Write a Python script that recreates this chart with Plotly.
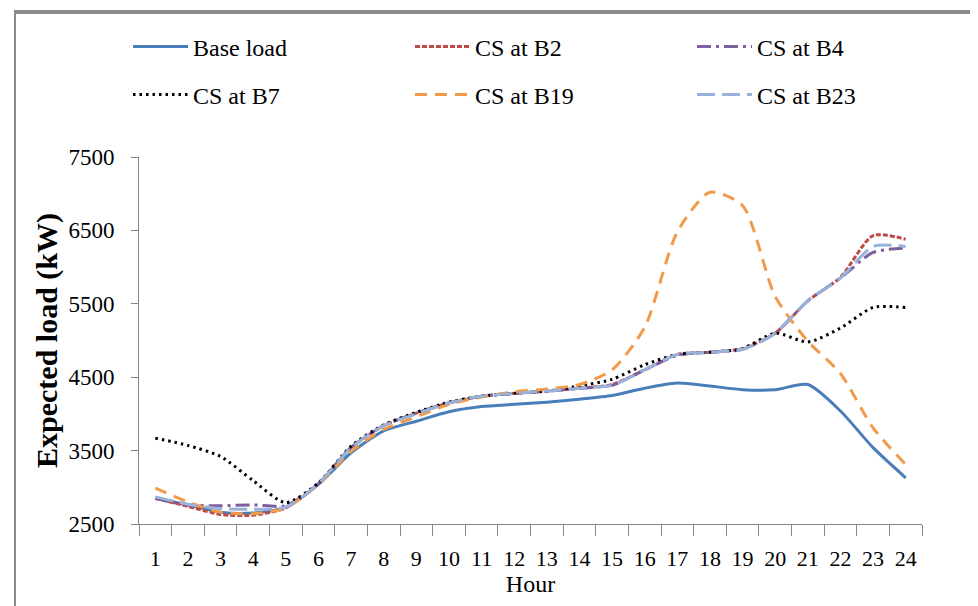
import plotly.graph_objects as go

hours = [str(h) for h in range(1, 25)]
base_load = [2850, 2760, 2660, 2650, 2730, 3040, 3470, 3770, 3900, 4030, 4100, 4130,
             4160, 4200, 4250, 4350, 4420, 4380, 4330, 4330, 4400, 4040, 3540, 3130]
cs_b2 = [2850, 2740, 2630, 2620, 2720, 3050, 3540, 3840, 4010, 4150, 4240, 4280,
         4310, 4350, 4400, 4600, 4810, 4840, 4890, 5100, 5540, 5860, 6430, 6380]
cs_b4 = [2850, 2760, 2750, 2760, 2750, 3050, 3540, 3840, 4010, 4150, 4240, 4280,
         4310, 4350, 4390, 4600, 4800, 4840, 4880, 5100, 5540, 5850, 6200, 6260]
cs_b7 = [3670, 3570, 3420, 3090, 2790, 3060, 3560, 3850, 4020, 4160, 4240, 4280,
         4310, 4380, 4470, 4670, 4810, 4840, 4890, 5100, 4980, 5170, 5450, 5450]
cs_b19 = [2990, 2800, 2660, 2640, 2720, 3040, 3490, 3790, 3960, 4130, 4230, 4300,
          4340, 4400, 4600, 5180, 6480, 7020, 6840, 5600, 4990, 4550, 3810, 3310]
cs_b23 = [2870, 2770, 2710, 2700, 2730, 3050, 3540, 3840, 4000, 4150, 4240, 4280,
          4310, 4350, 4390, 4600, 4810, 4840, 4880, 5100, 5540, 5850, 6280, 6280]

FONT = "Liberation Serif"
W, H = 978, 606
L, R, T, B = 131, 64, 149, 90
pw, ph = W - L - R, H - T - B

series = [
    ("Base load", base_load, "#4A7EBB", "solid", "legend"),
    ("CS at B2", cs_b2, "#BE4B48", "5px,2px", "legend"),
    ("CS at B4", cs_b4, "#7D5FA0", "14px,5px,3px,5px", "legend"),
    ("CS at B7", cs_b7, "#000000", "2.5px,4px", "legend2"),
    ("CS at B19", cs_b19, "#F09A4A", "12px,8px", "legend2"),
    ("CS at B23", cs_b23, "#98B2D9", "18px,7px", "legend2"),
]

fig = go.Figure()
for name, vals, color, dash, lg in series:
    fig.add_trace(go.Scatter(
        x=hours, y=vals, name=name, mode="lines", legend=lg,
        line=dict(color=color, width=3, dash=dash, shape="spline", smoothing=0.7),
    ))

def px_x(p):
    return (p - L) / pw

def px_y(p):
    return (H - B - p) / ph

legend_common = dict(
    orientation="h", xref="paper", yref="paper", xanchor="left", yanchor="middle",
    font=dict(family=FONT, size=24, color="#000000"),
    itemwidth=55, entrywidth=212, entrywidthmode="pixels",
    bgcolor="rgba(0,0,0,0)", traceorder="normal",
)

fig.update_layout(
    width=W, height=H,
    margin=dict(l=L, r=R, t=T, b=B),
    paper_bgcolor="white", plot_bgcolor="white",
    font=dict(family=FONT, color="#000000"),
    showlegend=True,
    legend=dict(x=px_x(120), y=px_y(39), **legend_common),
    legend2=dict(x=px_x(120), y=px_y(87), **legend_common),
    xaxis=dict(
        type="category", range=[-0.5, 23.5],
        showgrid=False, zeroline=False,
        showline=True, linecolor="#868686", linewidth=1,
        ticks="outside", ticklen=11, tickcolor="#868686", tickson="boundaries",
        tickfont=dict(family=FONT, size=22, color="#000000"),
        ticklabelstandoff=15,
        title=dict(text="Hour", font=dict(family=FONT, size=24, color="#000000"), standoff=0),
    ),
    yaxis=dict(
        range=[2500, 7500], dtick=1000, tick0=2500,
        showgrid=False, zeroline=False,
        showline=True, linecolor="#868686", linewidth=1,
        ticks="outside", ticklen=7, tickcolor="#868686",
        tickfont=dict(family=FONT, size=23, color="#000000"),
        ticklabelstandoff=12,
        title=dict(text="<b>Expected load (kW)</b>",
                   font=dict(family=FONT, size=30, color="#000000"), standoff=1),
    ),
    shapes=[
        dict(type="line", xref="paper", yref="paper", x0=px_x(6), x1=px_x(978),
             y0=px_y(4), y1=px_y(4), line=dict(color="#8A8A8A", width=4)),
        dict(type="line", xref="paper", yref="paper", x0=px_x(7), x1=px_x(7),
             y0=px_y(2), y1=px_y(605), line=dict(color="#8A8A8A", width=2)),
        dict(type="line", xref="paper", yref="paper", x0=px_x(7), x1=px_x(978),
             y0=px_y(604), y1=px_y(604), line=dict(color="#BDBDBD", width=1)),
    ],
)

fig.write_html("out.html")
